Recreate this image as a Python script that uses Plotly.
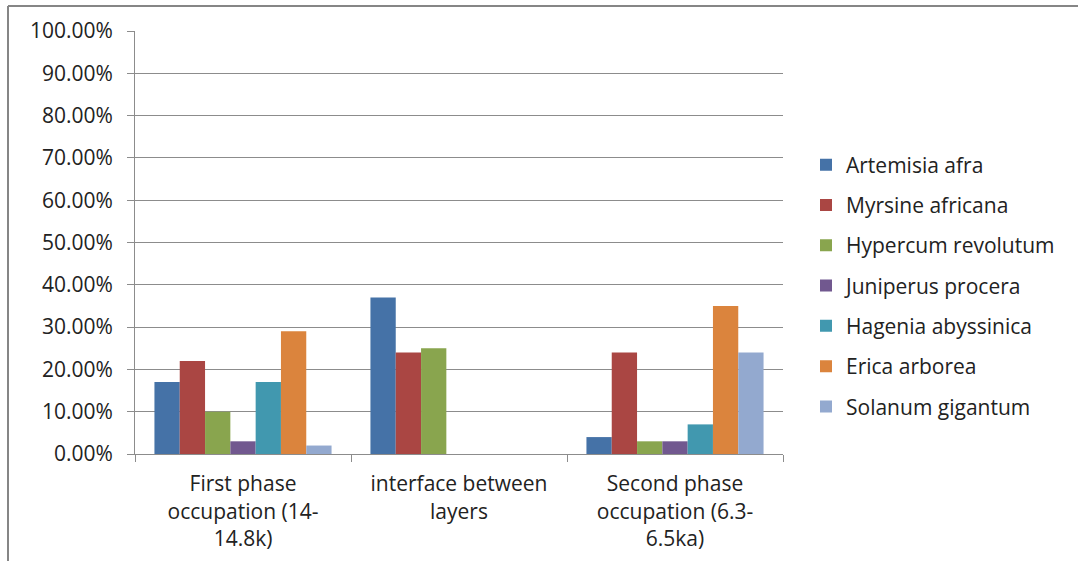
import plotly.graph_objects as go

# Pollen / charcoal taxa share per occupation phase
categories = [
    "First phase<br>occupation (14-<br>14.8k)",
    "interface between<br>layers",
    "Second phase<br>occupation (6.3-<br>6.5ka)",
]
taxa = [
    "Artemisia afra",
    "Myrsine africana",
    "Hypercum revolutum",
    "Juniperus procera",
    "Hagenia abyssinica",
    "Erica arborea",
    "Solanum gigantum",
]
artemisia_afra = [0.17, 0.37, 0.04]
myrsine_africana = [0.22, 0.24, 0.24]
hypercum_revolutum = [0.10, 0.25, 0.03]
juniperus_procera = [0.03, 0.0, 0.03]
hagenia_abyssinica = [0.17, 0.0, 0.07]
erica_arborea = [0.29, 0.0, 0.35]
solanum_gigantum = [0.02, 0.0, 0.24]
series = [
    artemisia_afra,
    myrsine_africana,
    hypercum_revolutum,
    juniperus_procera,
    hagenia_abyssinica,
    erica_arborea,
    solanum_gigantum,
]
colors = ["#4572A7", "#AA4643", "#89A54E", "#71588F", "#4198AF", "#DB843D", "#93A9CF"]
y_ticks = [i / 10 for i in range(11)]

FONT = "'Open Sans', sans-serif"
FS = 21
TEXT = "#222222"
GRID = "#8c8c8c"

fig = go.Figure()
for name, vals, col in zip(taxa, series, colors):
    fig.add_trace(go.Bar(
        x=categories, y=vals, name=name, legendgroup=name,
        marker=dict(color=col, line=dict(width=0)),
    ))

W, H = 1078, 561
L, R, T, B = 135, 295, 31, 107
pw, ph = W - L - R, H - T - B

fig.update_layout(
    width=W, height=H,
    margin=dict(l=L, r=R, t=T, b=B, autoexpand=False),
    paper_bgcolor="white", plot_bgcolor="white",
    barmode="group", bargap=0.18, bargroupgap=0,
    font=dict(family=FONT, size=FS, color=TEXT),
    legend=dict(
        x=(806 - L) / pw, xanchor="left",
        y=(454 - 286) / ph, yanchor="middle",
        traceorder="grouped", tracegroupgap=10,
        font=dict(family=FONT, size=FS, color=TEXT),
        bgcolor="rgba(0,0,0,0)",
    ),
    xaxis=dict(
        showline=True, linecolor=GRID, linewidth=1,
        ticks="outside", tickson="boundaries", ticklen=7, tickcolor=GRID,
        showgrid=False, tickfont=dict(size=FS, color=TEXT),
        ticklabelstandoff=11, automargin=False,
    ),
    yaxis=dict(
        range=[0, 1], tickvals=y_ticks, tickformat=".2%",
        showline=True, linecolor=GRID, linewidth=1,
        ticks="outside", ticklen=7, tickcolor=GRID,
        showgrid=True, gridcolor=GRID, gridwidth=1,
        zeroline=False, tickfont=dict(size=FS, color=TEXT),
        ticklabelstandoff=10, automargin=False,
    ),
    shapes=[
        # chart frame (top and left edges)
        dict(type="line", xref="paper", yref="paper",
             x0=(8 - L) / pw, x1=(W - L) / pw,
             y0=1 + (T - 6) / ph, y1=1 + (T - 6) / ph,
             line=dict(color="#868686", width=2)),
        dict(type="line", xref="paper", yref="paper",
             x0=(8 - L) / pw, x1=(8 - L) / pw,
             y0=1 + (T - 6) / ph, y1=-(H - (H - B)) / ph,
             line=dict(color="#868686", width=2)),
    ],
)

fig.write_html("out.html")
